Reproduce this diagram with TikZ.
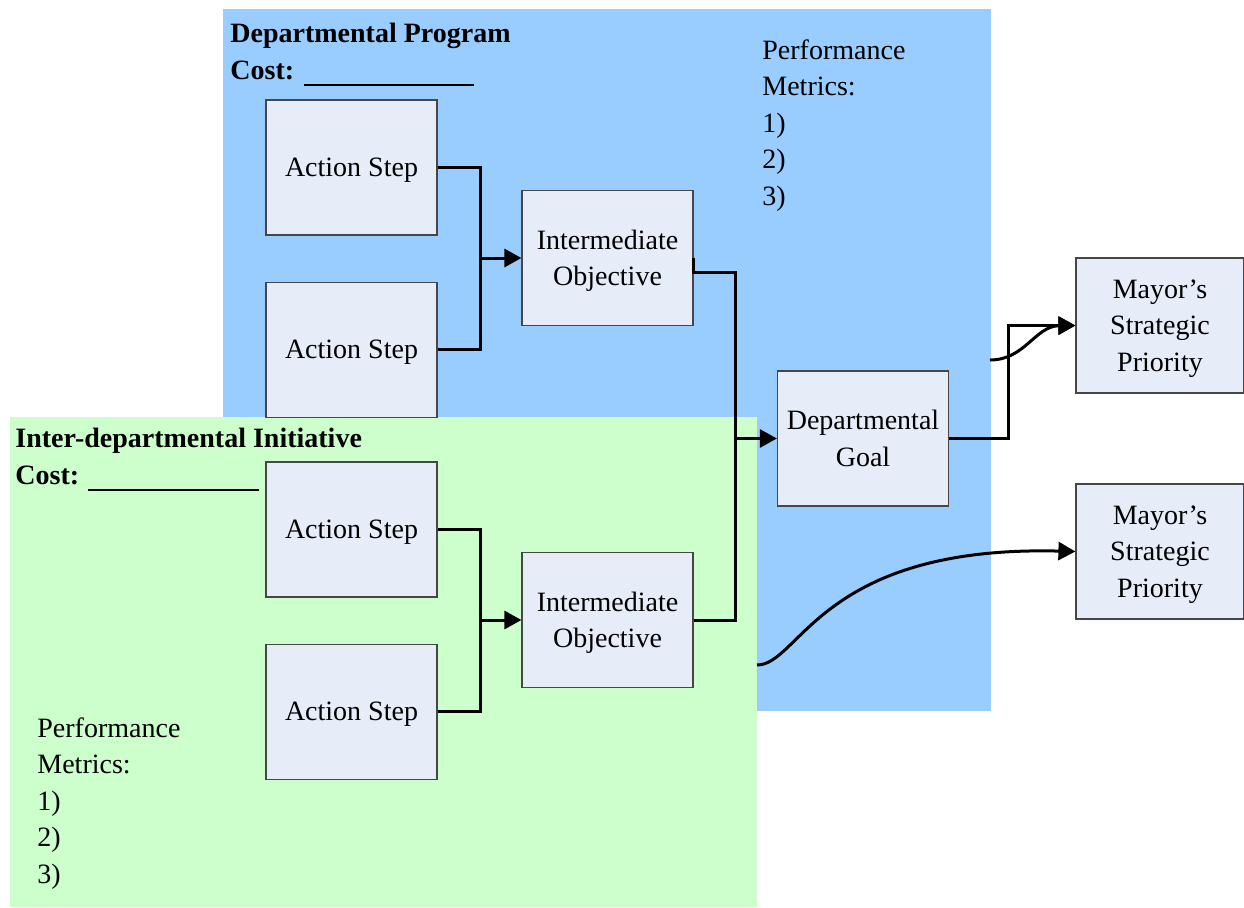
\documentclass[tikz,border=0pt]{standalone}
\usepackage{fontspec}
\setmainfont{Liberation Serif}
\usetikzlibrary{positioning,arrows.meta}

\definecolor{progblue}{RGB}{153,204,255}
\definecolor{initgreen}{RGB}{204,255,204}
\definecolor{boxfill}{RGB}{230,236,248}
\definecolor{boxline}{RGB}{70,70,70}

\newcommand{\costline}{\rule[-3.4pt]{85.5pt}{1.3pt}}

\begin{document}
\begin{tikzpicture}[
    x=0.5pt, y=-0.5pt,
    font=\fontsize{14}{18.25}\selectfont,
    stepbox/.style={draw=boxline, fill=boxfill, line width=0.6pt, minimum width=85.5pt, minimum height=67.5pt, align=center, inner sep=0pt, text depth=0pt},
    mayorbox/.style={stepbox, minimum width=84pt},
    labeltext/.style={anchor=north west, align=left, inner sep=0pt},
    link/.style={line width=1.5pt},
    tobox/.style={link, -{Triangle[length=8.5pt,width=9pt]}}
    ]
    \useasboundingbox (0,0) rectangle (1244,907);

    %% Background areas
    \fill[progblue] (223,9) rectangle (991,711);
    \fill[initgreen] (10,417) rectangle (757,907);

    %% Departmental Program
    \node[labeltext](prog) at (230,23){\textbf{Departmental Program}\\\textbf{Cost:} \costline};
    \node[labeltext](prmetrics) at (762,39){Performance\\Metrics:\\1)\\2)\\3)};
    \node[stepbox](as1) at (351.5,167.5){Action Step};
    \node[stepbox](as2)[below=23pt of as1]{Action Step};
    \node[stepbox](io1) at (607.5,258){Intermediate\\Objective};

    %% Inter-departmental Initiative
    \node[labeltext](init) at (15,428){\textbf{Inter-departmental Initiative}\\\textbf{Cost:} \costline};
    \node[labeltext](inmetrics) at (37,717){Performance\\Metrics:\\1)\\2)\\3)};
    \node[stepbox](as3) at (351.5,529.5){Action Step};
    \node[stepbox](as4)[below=23pt of as3]{Action Step};
    \node[stepbox](io2) at (607.5,620){Intermediate\\Objective};

    %% Goal and priorities
    \node[stepbox](dg) at (863,438.5){Departmental\\Goal};
    \node[mayorbox](mp1) at (1160,325.5){Mayor's\\Strategic\\Priority};
    \node[mayorbox](mp2) at (1160,551.5){Mayor's\\Strategic\\Priority};

    %% Connectors
    \coordinate (j1) at (480,258);
    \coordinate (j2) at (480,620);
    \coordinate (j3) at (735,438.5);
    \draw[link] (as1.east) -| (j1);
    \draw[link] (as2.east) -| (j1);
    \draw[tobox] (j1) -- (io1.west);
    \draw[link] (as3.east) -| (j2);
    \draw[link] (as4.east) -| (j2);
    \draw[tobox] (j2) -- (io2.west);
    \draw[link] (io1.east) -- ++(0,14) -| (j3);
    \draw[link] (io2.east) -| (j3);
    \draw[tobox] (j3) -- (dg.west);
    \draw[tobox] (dg.east) -- ++(59,0) |- (mp1.west);

    %% Links from outside
    \coordinate (in1) at (990,360);
    \coordinate (in2) at (757,665);
    \draw[tobox] (in1) .. controls (1025,360) and (1035,326) .. (mp1.west);
    \draw[tobox] (in2) .. controls (800,665) and (820,545) .. (mp2.west);
\end{tikzpicture}
\end{document}
